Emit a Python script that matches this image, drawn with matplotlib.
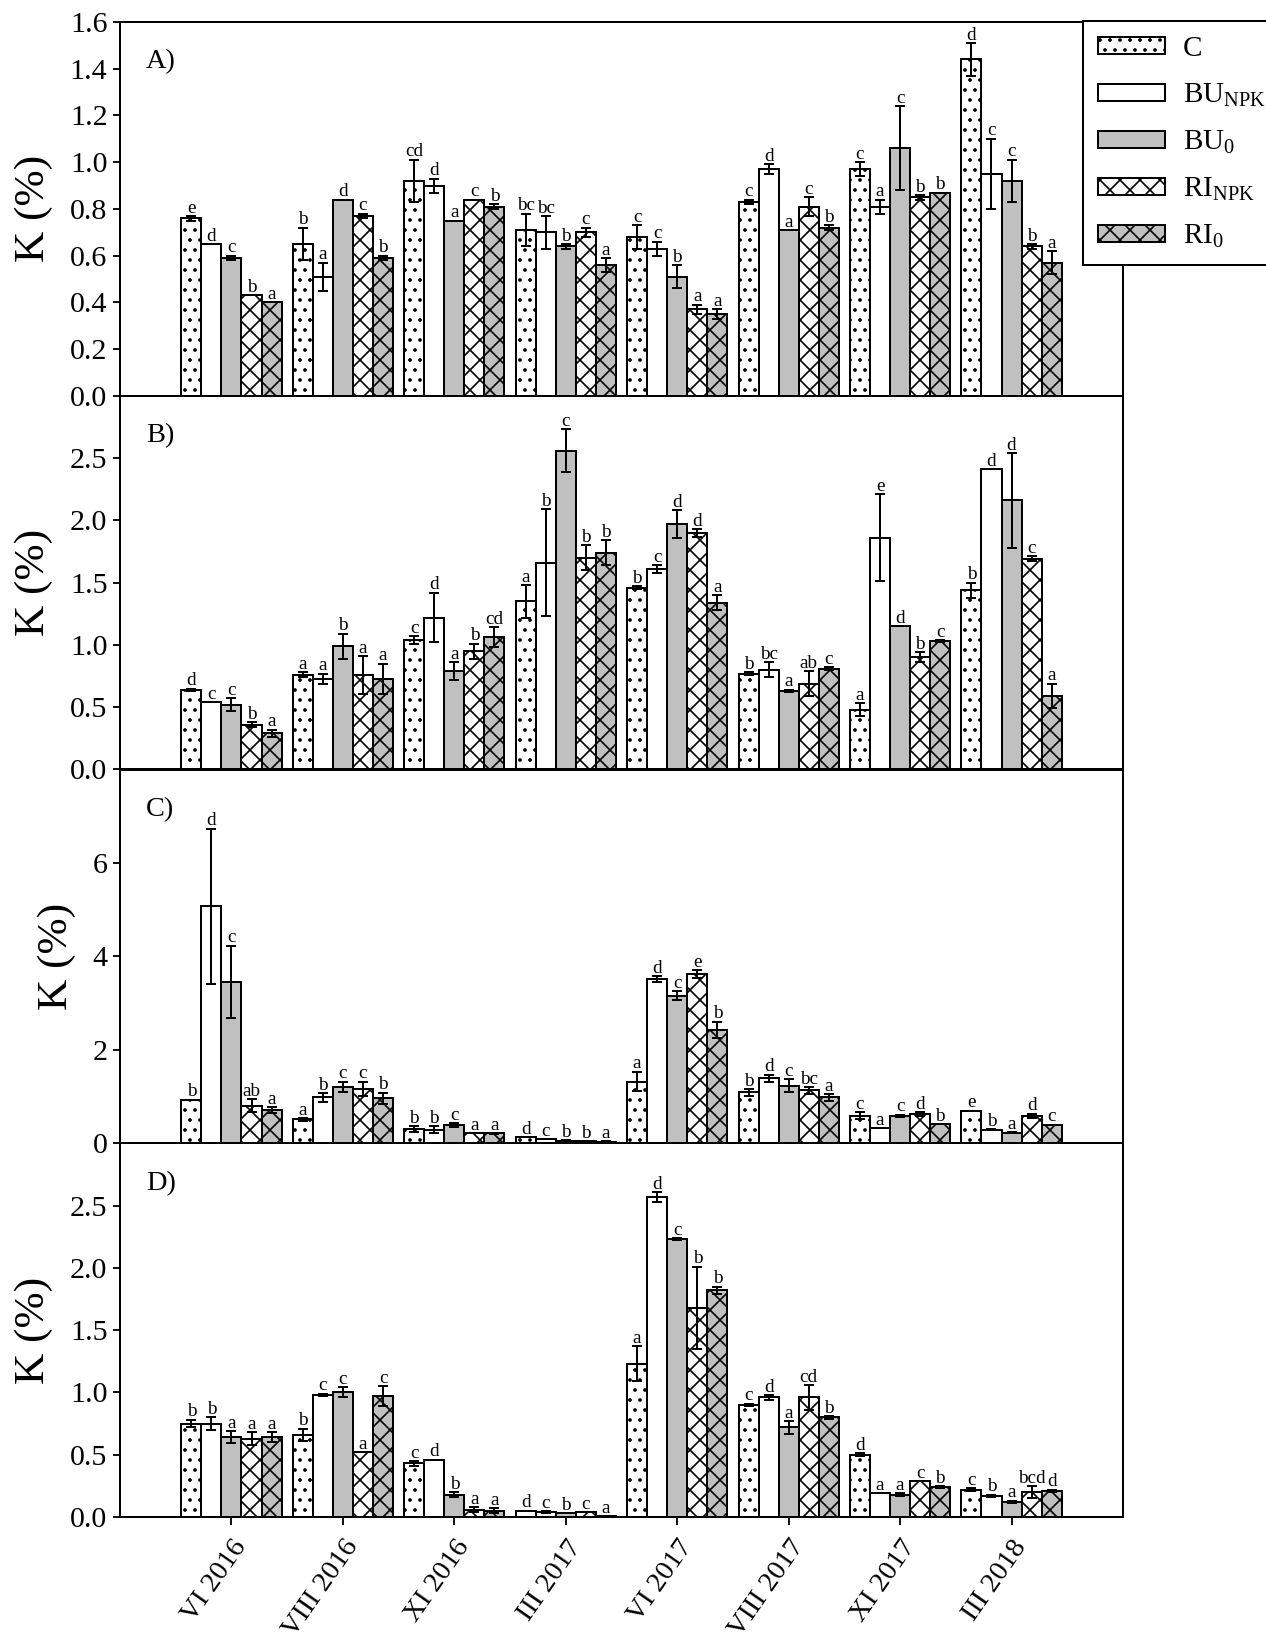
import numpy as np
import matplotlib
matplotlib.use('Agg')
import matplotlib.pyplot as plt
from matplotlib.patches import Patch

plt.rcParams['font.family'] = 'Liberation Serif'
plt.rcParams['mathtext.fontset'] = 'custom'
plt.rcParams['mathtext.rm'] = 'Liberation Serif'
plt.rcParams['hatch.linewidth'] = 1.0

# terminai ir variantai
datos = ['VI 2016', 'VIII 2016', 'XI 2016', 'III 2017',
         'VI 2017', 'VIII 2017', 'XI 2017', 'III 2018']
variantai = ['C', r'$\mathregular{BU_{NPK}}$', r'$\mathregular{BU_{0}}$',
             r'$\mathregular{RI_{NPK}}$', r'$\mathregular{RI_{0}}$']

# A) K (%) - eilutės = datos, stulpeliai = C, BU_NPK, BU_0, RI_NPK, RI_0
k_a = [[0.76, 0.65, 0.59, 0.43, 0.40],
       [0.65, 0.51, 0.84, 0.77, 0.59],
       [0.92, 0.90, 0.75, 0.84, 0.81],
       [0.71, 0.70, 0.64, 0.70, 0.56],
       [0.68, 0.63, 0.51, 0.37, 0.35],
       [0.83, 0.97, 0.71, 0.81, 0.72],
       [0.97, 0.81, 1.06, 0.85, 0.87],
       [1.44, 0.95, 0.92, 0.64, 0.57]]
se_a = [[0.01, 0, 0.01, 0, 0],
        [0.07, 0.06, 0, 0.01, 0.01],
        [0.09, 0.03, 0, 0, 0.01],
        [0.07, 0.07, 0.01, 0.02, 0.03],
        [0.05, 0.03, 0.05, 0.02, 0.02],
        [0.01, 0.02, 0, 0.04, 0.01],
        [0.03, 0.03, 0.18, 0.01, 0],
        [0.07, 0.15, 0.09, 0.01, 0.05]]
raides_a = [['e', 'd', 'c', 'b', 'a'],
            ['b', 'a', 'd', 'c', 'b'],
            ['cd', 'd', 'a', 'c', 'b'],
            ['bc', 'bc', 'b', 'c', 'a'],
            ['c', 'c', 'b', 'a', 'a'],
            ['c', 'd', 'a', 'c', 'b'],
            ['c', 'a', 'c', 'b', 'b'],
            ['d', 'c', 'c', 'b', 'a']]

# B)
k_b = [[0.64, 0.54, 0.52, 0.36, 0.29],
       [0.76, 0.73, 0.99, 0.76, 0.73],
       [1.04, 1.22, 0.79, 0.95, 1.06],
       [1.35, 1.66, 2.56, 1.70, 1.74],
       [1.46, 1.61, 1.97, 1.90, 1.34],
       [0.77, 0.80, 0.63, 0.69, 0.81],
       [0.48, 1.86, 1.15, 0.90, 1.03],
       [1.44, 2.41, 2.16, 1.69, 0.59]]
se_b = [[0.01, 0, 0.05, 0.02, 0.03],
        [0.02, 0.04, 0.10, 0.15, 0.12],
        [0.03, 0.20, 0.07, 0.06, 0.08],
        [0.13, 0.43, 0.17, 0.10, 0.10],
        [0.01, 0.03, 0.11, 0.03, 0.06],
        [0.01, 0.06, 0.01, 0.10, 0.01],
        [0.05, 0.35, 0, 0.04, 0.01],
        [0.06, 0, 0.38, 0.02, 0.10]]
raides_b = [['d', 'c', 'c', 'b', 'a'],
            ['a', 'a', 'b', 'a', 'a'],
            ['c', 'd', 'a', 'b', 'cd'],
            ['a', 'b', 'c', 'b', 'b'],
            ['b', 'c', 'd', 'd', 'a'],
            ['b', 'bc', 'a', 'ab', 'c'],
            ['a', 'e', 'd', 'b', 'c'],
            ['b', 'd', 'd', 'c', 'a']]

# C)
k_c = [[0.93, 5.07, 3.46, 0.80, 0.71],
       [0.51, 0.98, 1.21, 1.17, 0.96],
       [0.30, 0.29, 0.39, 0.21, 0.21],
       [0.13, 0.09, 0.05, 0.04, 0.03],
       [1.32, 3.51, 3.16, 3.62, 2.43],
       [1.09, 1.39, 1.23, 1.13, 0.98],
       [0.59, 0.32, 0.59, 0.62, 0.41],
       [0.70, 0.29, 0.23, 0.59, 0.40]]
se_c = [[0, 1.66, 0.77, 0.14, 0.06],
        [0.03, 0.09, 0.11, 0.15, 0.12],
        [0.06, 0.07, 0.04, 0, 0.01],
        [0, 0, 0.01, 0, 0.01],
        [0.21, 0.06, 0.09, 0.08, 0.17],
        [0.07, 0.08, 0.14, 0.07, 0.07],
        [0.07, 0, 0.02, 0.04, 0],
        [0, 0.01, 0.01, 0.04, 0]]
raides_c = [['b', 'd', 'c', 'ab', 'a'],
            ['a', 'b', 'c', 'c', 'b'],
            ['b', 'b', 'c', 'a', 'a'],
            ['d', 'c', 'b', 'b', 'a'],
            ['a', 'd', 'c', 'e', 'b'],
            ['b', 'd', 'c', 'bc', 'a'],
            ['c', 'a', 'c', 'd', 'b'],
            ['e', 'b', 'a', 'd', 'c']]

# D)
k_d = [[0.75, 0.75, 0.64, 0.63, 0.64],
       [0.66, 0.98, 1.00, 0.52, 0.97],
       [0.43, 0.46, 0.18, 0.06, 0.05],
       [0.05, 0.04, 0.03, 0.04, 0.005],
       [1.23, 2.57, 2.23, 1.68, 1.82],
       [0.90, 0.96, 0.72, 0.96, 0.80],
       [0.50, 0.19, 0.18, 0.29, 0.24],
       [0.22, 0.17, 0.12, 0.20, 0.21]]
se_d = [[0.03, 0.05, 0.05, 0.05, 0.04],
        [0.05, 0.01, 0.04, 0, 0.08],
        [0.02, 0, 0.02, 0.02, 0.02],
        [0, 0.005, 0, 0, 0],
        [0.14, 0.04, 0.01, 0.33, 0.03],
        [0.01, 0.02, 0.05, 0.10, 0.01],
        [0.01, 0, 0.01, 0, 0.01],
        [0.01, 0.01, 0.01, 0.05, 0.01]]
raides_d = [['b', 'b', 'a', 'a', 'a'],
            ['b', 'c', 'c', 'a', 'c'],
            ['c', 'd', 'b', 'a', 'a'],
            ['d', 'c', 'b', 'c', 'a'],
            ['a', 'd', 'c', 'b', 'b'],
            ['c', 'd', 'a', 'cd', 'b'],
            ['d', 'a', 'a', 'c', 'b'],
            ['c', 'b', 'a', 'bcd', 'd']]

# bar stiliai
spalvos = ['white', 'white', '#c0c0c0', 'white', '#c0c0c0']
raštai = ['..', None, None, 'xx', 'xx']

DPI = 120
W, H = 1266, 1633
fig = plt.figure(figsize=(W / DPI, H / DPI), dpi=DPI)

kairė, dešinė = 120 / W, 1123 / W
viršus, apačia = 1 - 22 / H, 1 - 1517 / H
aukštis = (viršus - apačia) / 4

paneliai = [
    ('A)', k_a, se_a, raides_a, 1.6, np.arange(0, 1.61, 0.2), '%.1f'),
    ('B)', k_b, se_b, raides_b, 3.0, np.arange(0, 2.51, 0.5), '%.1f'),
    ('C)', k_c, se_c, raides_c, 8.0, np.arange(0, 6.1, 2), '%d'),
    ('D)', k_d, se_d, raides_d, 3.0, np.arange(0, 2.51, 0.5), '%.1f'),
]

x = np.arange(1, len(datos) + 1)
plotis = 0.18
poslinkiai = (np.arange(5) - 2) * plotis

for i, (pav, vals, errs, raid, ymax, yt, fmt) in enumerate(paneliai):
    ax = fig.add_axes([kairė, viršus - (i + 1) * aukštis, dešinė - kairė, aukštis])
    vals = np.array(vals, dtype=float)
    errs = np.array(errs, dtype=float)
    for j in range(5):
        xp = x + poslinkiai[j]
        ax.bar(xp, vals[:, j], width=plotis, color=spalvos[j], edgecolor='black',
               linewidth=1.2, hatch=raštai[j], zorder=2)
        m = errs[:, j] > 0
        ax.errorbar(xp[m], vals[m, j], yerr=errs[m, j], fmt='none', ecolor='black',
                    elinewidth=1.2, capsize=3, capthick=1.2, zorder=3)
        for g in range(len(datos)):
            ax.annotate(raid[g][j], (xp[g], vals[g, j] + errs[g, j]),
                        xytext=(0, 2), textcoords='offset points',
                        ha='center', va='baseline', fontsize=11.5, zorder=4)

    ax.set_xlim(0, 9)
    ax.set_ylim(0, ymax)
    ax.set_yticks(yt)
    ax.set_yticklabels([fmt % v for v in yt])
    ax.set_xticks(x)
    ax.tick_params(axis='y', direction='out', length=4.5, width=1.1, labelsize=18, pad=3)
    ax.tick_params(axis='x', direction='out', length=5, width=1.1, labelsize=17)
    for s in ax.spines.values():
        s.set_linewidth(1.2)
    ax.set_ylabel('K (%)', fontsize=26, labelpad=10)
    ax.text(0.026, 0.893, pav, transform=ax.transAxes, ha='left', va='center', fontsize=17)
    if i < 3:
        ax.set_xticklabels([])
    else:
        ax.set_xticklabels(datos, rotation=55, ha='right', rotation_mode='anchor')
        ax.tick_params(axis='x', pad=6)

# legenda virš A panelio dešiniojo krašto
rankenos = [Patch(facecolor=spalvos[j], edgecolor='black', hatch=raštai[j], linewidth=1.2)
            for j in range(5)]
leg = fig.legend(rankenos, variantai, loc='upper left',
                 bbox_to_anchor=(1083 / W, 1 - 21 / H), bbox_transform=fig.transFigure,
                 fancybox=False, edgecolor='black', framealpha=1, fontsize=17.5,
                 handlelength=2.3, handleheight=0.51, handletextpad=0.62,
                 labelspacing=0.68, borderpad=0.51, borderaxespad=0)
leg.get_frame().set_linewidth(1.2)

fig.savefig('out.png', dpi=DPI)
